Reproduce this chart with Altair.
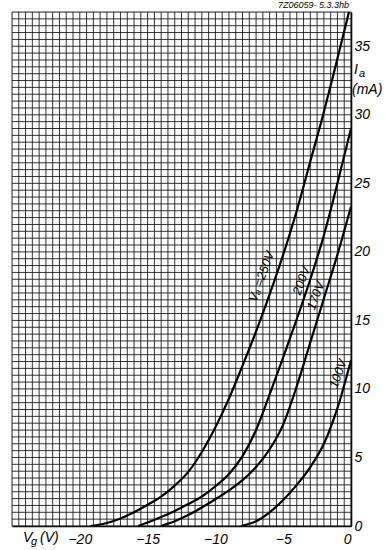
import altair as alt
import pandas as pd

# --- curves (Vg in V, Ia in mA) ---
va_names = ["250", "200", "170", "100"]
vg_250 = [-19.2, -18, -17, -16, -15, -14, -13, -12, -11, -10, -9, -8, -7, -6, -5, -4, -3, -2, -1, 0]
ia_250 = [0.0, 0.22, 0.55, 1.0, 1.55, 2.15, 2.95, 3.95, 5.4, 7.2, 9.3, 11.7, 14.2, 16.9, 19.8, 23.0, 26.6, 30.2, 34.1, 38.1]
vg_200 = [-15.7, -15, -14, -13, -12, -11, -10, -9, -8, -7, -6, -5, -4, -3, -2, -1, 0]
ia_200 = [0.0, 0.25, 0.65, 1.1, 1.6, 2.15, 2.9, 3.8, 5.1, 7.0, 9.6, 12.3, 15.1, 18.0, 21.2, 25.0, 29.0]
vg_170 = [-14.0, -13, -12, -11, -10, -9, -8, -7, -6, -5, -4, -3, -2, -1, 0]
ia_170 = [0.0, 0.35, 0.8, 1.35, 1.95, 2.6, 3.35, 4.3, 5.6, 7.4, 10.2, 13.4, 16.6, 19.8, 23.3]
vg_100 = [-8.1, -7, -6, -5, -4, -3, -2, -1, 0]
ia_100 = [0.0, 0.35, 1.0, 1.9, 3.0, 4.3, 6.0, 8.6, 12.1]

# curve labels (position in data units)
label_text = ["Vₐ =250V", "200V", "170V", "100V"]
label_vg = [-6.6, -3.65, -2.6, -0.95]
label_ia = [18.2, 17.9, 16.8, 11.1]

# tick labels
x_ticks = [-20, -15, -10, -5, 0]
y_ticks = [0, 5, 10, 15, 20, 25, 30, 35]

# axis ranges / graph-paper step
x_min, x_max = -25.0, 0.0
y_min, y_max = 0.0, 37.5
grid_step = 0.5

rows = []
for name, xs, ys in zip(va_names, [vg_250, vg_200, vg_170, vg_100], [ia_250, ia_200, ia_170, ia_100]):
    for i, (a, b) in enumerate(zip(xs, ys)):
        rows.append({"va": name, "vg": a, "ia": b, "order": i})
df = pd.DataFrame(rows)
df_lbl = pd.DataFrame({"vg": label_vg, "ia": label_ia, "text": label_text})

x_grid = pd.DataFrame({"vg": [x_min + grid_step * i for i in range(int((x_max - x_min) / grid_step) + 1)]})
y_grid = pd.DataFrame({"ia": [y_min + grid_step * i for i in range(int((y_max - y_min) / grid_step) + 1)]})

FONT = "Liberation Sans"
GRID = "#1c1c1c"

xscale = alt.Scale(domain=[x_min, x_max], nice=False, zero=False)
yscale = alt.Scale(domain=[y_min, y_max], nice=False, zero=False)

xaxis = alt.Axis(
    values=x_ticks, format="d", title=None, ticks=False, grid=False,
    labelOverlap=False, labelFlush=True, labelPadding=6,
    labelFont=FONT, labelFontStyle="italic", labelFontSize=14, labelColor="black",
    domainColor="black", domainWidth=1.6,
)
yaxis = alt.Axis(
    values=y_ticks, format="d", title=None, ticks=False, grid=False, orient="right",
    labelOverlap=False, labelFlush=False, labelPadding=3,
    labelFont=FONT, labelFontStyle="italic", labelFontSize=14, labelColor="black",
    domainColor="black", domainWidth=1.6,
)

X = alt.X("vg:Q", scale=xscale, axis=xaxis)
Y = alt.Y("ia:Q", scale=yscale, axis=yaxis)

vgrid = alt.Chart(x_grid).mark_rule(color=GRID, strokeWidth=0.9).encode(x=X)
hgrid = alt.Chart(y_grid).mark_rule(color=GRID, strokeWidth=0.9).encode(y=Y)

curves = alt.Chart(df).mark_line(
    color="black", strokeWidth=2.2, interpolate="monotone", clip=True
).encode(
    x=X, y=Y,
    detail="va:N",
    order="order:Q",
)

labels = alt.Chart(df_lbl).mark_text(
    angle=290, font=FONT, fontStyle="italic", fontSize=12.5, color="black"
).encode(x=X, y=Y, text="text:N")

one = pd.DataFrame({"k": [0]})

def note(txt, x, y, size=14, align="left", baseline="middle"):
    return alt.Chart(one).mark_text(
        text=txt, font=FONT, fontStyle="italic", fontSize=size,
        align=align, baseline=baseline, color="black"
    ).encode(x=alt.value(x), y=alt.value(y))

ann = [
    note("V", 11, 526),
    note("g", 19, 530, size=11),
    note("(V)", 28, 526),
    note("I", 342, 58),
    note("a", 347, 62, size=11),
    note("(mA)", 340, 78),
    note("7Z06059- 5.3.3hb", 337, -7, size=9, align="right"),
]

chart = alt.layer(vgrid, hgrid, curves, labels, *ann).properties(
    width=339, height=514,
    padding={"left": 12, "top": 12, "right": 34, "bottom": 24},
    autosize="none",
).configure_view(stroke="black", strokeWidth=1).configure(background="white")

chart.save("out.html", embed_options={"renderer": "svg", "actions": False})
